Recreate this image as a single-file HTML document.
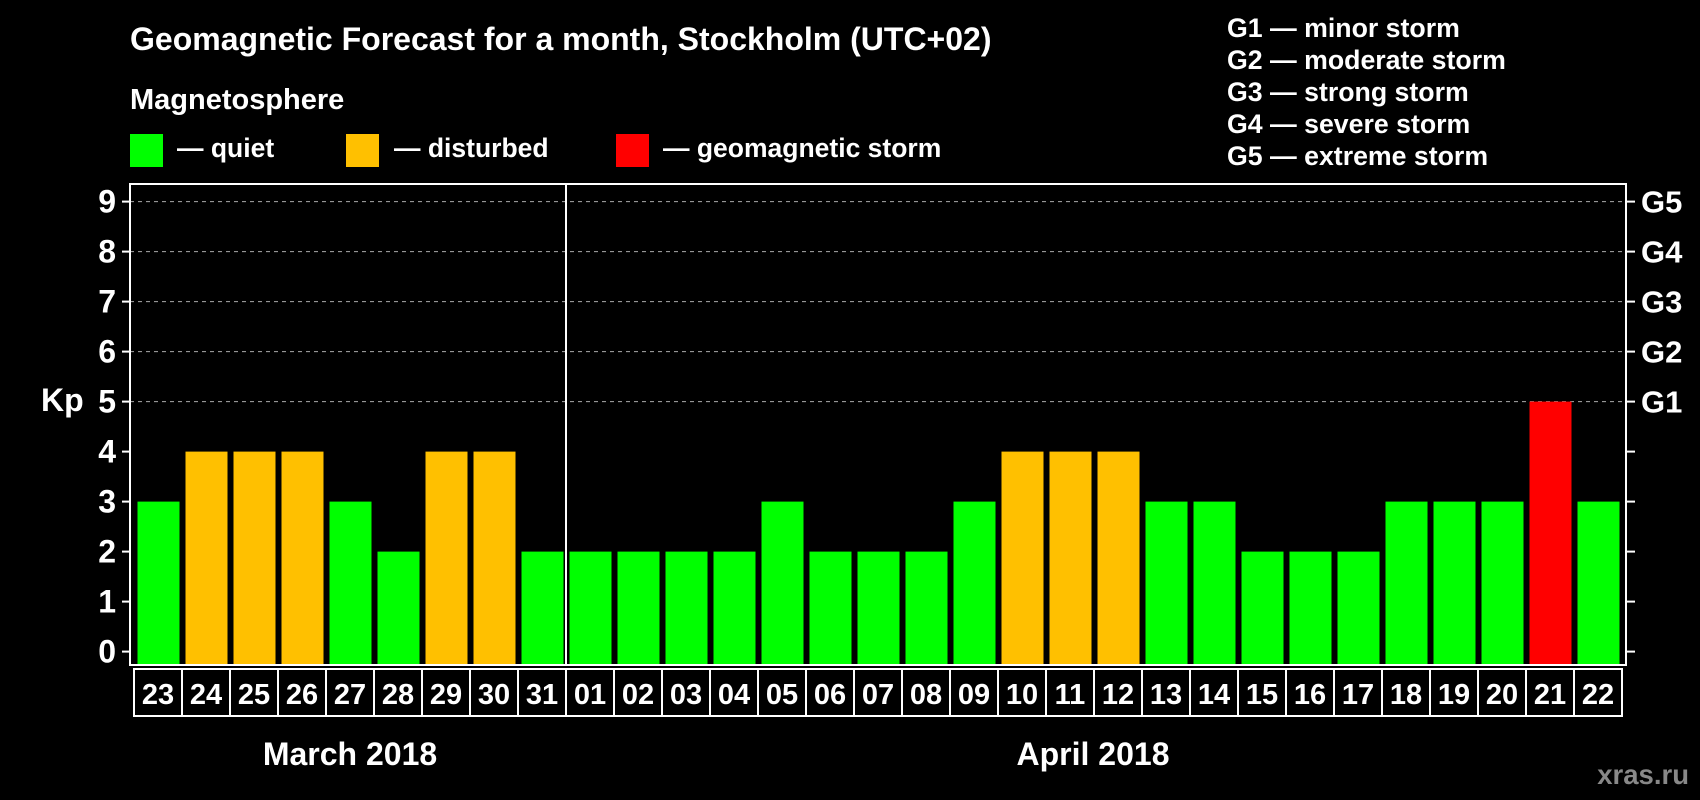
<!DOCTYPE html>
<html><head><meta charset="utf-8"><style>
html,body{margin:0;padding:0;background:#000;}
svg{display:block;font-family:"Liberation Sans",Arial,sans-serif;font-weight:bold;}
</style></head><body>
<svg id="chart" width="1700" height="800" viewBox="0 0 1700 800">
<rect width="1700" height="800" fill="#000"/>
<text x="130" y="50" fill="#fff" font-size="32">Geomagnetic Forecast for a month, Stockholm (UTC+02)</text>
<text x="130" y="109" fill="#fff" font-size="29">Magnetosphere</text>
<g><rect x="130" y="134" width="33" height="33" fill="#00ff00"/><text x="177" y="157" fill="#fff" font-size="26.5">— quiet</text></g>
<g><rect x="346" y="134" width="33" height="33" fill="#ffc000"/><text x="394" y="157" fill="#fff" font-size="26.5">— disturbed</text></g>
<g><rect x="616" y="134" width="33" height="33" fill="#ff0000"/><text x="663" y="157" fill="#fff" font-size="26.5">— geomagnetic storm</text></g>
<g fill="#fff" font-size="26.7">
<text x="1227" y="37">G1 — minor storm</text>
<text x="1227" y="69">G2 — moderate storm</text>
<text x="1227" y="101">G3 — strong storm</text>
<text x="1227" y="133">G4 — severe storm</text>
<text x="1227" y="165">G5 — extreme storm</text>
</g>
<text x="41" y="411" fill="#fff" font-size="32">Kp</text>
<text x="350" y="765" fill="#fff" font-size="32" text-anchor="middle">March 2018</text>
<text x="1093" y="765" fill="#fff" font-size="32" text-anchor="middle">April 2018</text>
<text x="1689" y="784" fill="#888" font-size="27.5" text-anchor="end">xras.ru</text>
<g id="plot"></g>
</svg>
<script>
const days = ["23","24","25","26","27","28","29","30","31","01","02","03","04","05","06","07","08","09","10","11","12","13","14","15","16","17","18","19","20","21","22"];
const kpValues = [3,4,4,4,3,2,4,4,2,2,2,2,2,3,2,2,2,3,4,4,4,3,3,2,2,2,3,3,3,5,3];
const yTicks = [0,1,2,3,4,5,6,7,8,9];
const gLabels = ["G1","G2","G3","G4","G5"];
const gLevels = [5,6,7,8,9];
const monthSplitIndex = 9;

const NS = "http://www.w3.org/2000/svg";
const plot = document.getElementById("plot");
const X0 = 134, SLOT = 48, BAR = 42, FL = 130, FR = 1626, FT = 184, FB = 665;
const xs = i => X0 + i * SLOT;
const ys = v => 651.6 - v * 50;
function mk(tag, attrs){const e=document.createElementNS(NS,tag);for(const k in attrs)e.setAttribute(k,attrs[k]);plot.appendChild(e);return e;}
function color(v){return v>=5?"#ff0000":v>=4?"#ffc000":"#00ff00";}

yTicks.forEach(v=>{
  const y=ys(v);
  if(v>=5){const g=mk("line",{x1:FL,x2:FR,y1:y,y2:y,stroke:"#aaa","stroke-width":1,"stroke-dasharray":"4,4"});
  
  }
  const t1=mk("line",{x1:FL-8,x2:FL,y1:y,y2:y,stroke:"#fff","stroke-width":2});
  
  
  const t2=mk("line",{x1:FR,x2:FR+9,y1:y,y2:y,stroke:"#fff","stroke-width":2});
  
  
  const l=mk("text",{x:116,y:y+11,fill:"#fff","font-size":32,"text-anchor":"end"});
  l.textContent=v;
  
  
});
gLabels.forEach((g,i)=>{
  const t=mk("text",{x:1641,y:ys(gLevels[i])+11,fill:"#fff","font-size":31});
  t.textContent=g;
  
  
});
kpValues.forEach((v,i)=>{
  const r=mk("rect",{x:xs(i)+3.5,y:ys(v),width:BAR,height:ys(0)-ys(v)+13,fill:color(v)});
  
  
});
const fr=mk("rect",{x:FL,y:FT,width:FR-FL,height:FB-FT,fill:"none",stroke:"#fff","stroke-width":2});


const dv=mk("line",{x1:xs(monthSplitIndex),x2:xs(monthSplitIndex),y1:FT,y2:FB,stroke:"#fff","stroke-width":2});


days.forEach((d,i)=>{
  const b=mk("rect",{x:xs(i),y:669,width:SLOT,height:47,fill:"none",stroke:"#fff","stroke-width":2});
  
  
  const t=mk("text",{x:xs(i)+SLOT/2,y:704,fill:"#fff","font-size":29,"text-anchor":"middle"});
  t.textContent=d;
  
  
});
</script>
</body></html>
